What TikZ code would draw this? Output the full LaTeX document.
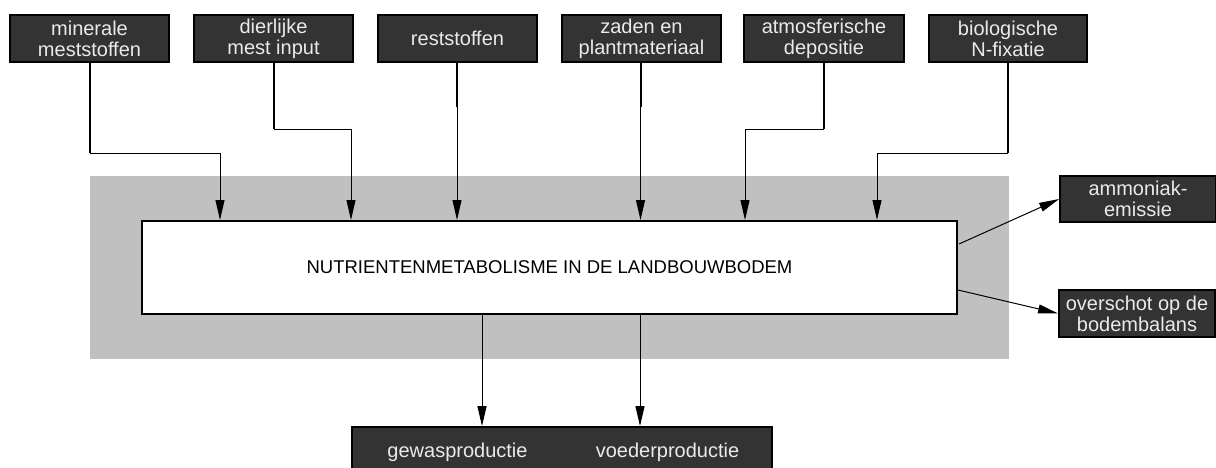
\documentclass[tikz,border=0pt]{standalone}
\usepackage{fontspec}
\setmainfont{Liberation Sans}
\usetikzlibrary{arrows.meta}
\definecolor{boxfill}{HTML}{333333}
\definecolor{boxtext}{HTML}{EAEAEA}
\definecolor{graybg}{HTML}{C0C0C0}
\begin{document}
\begin{tikzpicture}[x=1pt,y=-1pt,
  darkbox/.style={draw=black,line width=1.8pt,fill=boxfill,text=boxtext,
    minimum height=47pt,inner sep=0pt,align=center,
    font=\fontsize{20}{21}\selectfont},
  thickline/.style={line width=2pt},
  thinline/.style={line width=1pt},
  arr/.style={line width=1pt,-{Triangle[length=20pt,width=9pt]}}]
\useasboundingbox (0,0) rectangle (1216,467);
% grey background and main box
\fill[graybg] (90,176) rectangle (1009,359);
\node[draw=black,line width=2pt,fill=white,minimum width=815pt,minimum height=93pt,
  inner sep=0pt,font=\fontsize{18.5}{20}\selectfont] (main) at (549.5,267.5)
  {NUTRIENTENMETABOLISME IN DE LANDBOUWBODEM};
% top boxes
\node[darkbox,minimum width=159pt] (b1) at (89.5,38.5) {minerale\\meststoffen};
\node[darkbox,minimum width=159pt] (b2) at (273.5,38.5) {dierlijke\\mest input};
\node[darkbox,minimum width=159pt] (b3) at (457.5,38.5) {reststoffen};
\node[darkbox,minimum width=159pt] (b4) at (641.5,38.5) {zaden en\\plantmateriaal};
\node[darkbox,minimum width=160pt] (b5) at (824,38.5) {atmosferische\\depositie};
\node[darkbox,minimum width=158pt] (b6) at (1008,38.5) {biologische\\N-fixatie};
% right boxes
\node[darkbox,minimum width=156pt,minimum height=46pt] (amm) at (1138,199) {ammoniak-\\emissie};
\node[darkbox,minimum width=156pt] (ov) at (1137,313.5) {overschot op de\\bodembalans};
% bottom box
\node[darkbox,minimum width=420pt,minimum height=50pt] (prod) at (562,452) {};
\node[text=boxtext,font=\fontsize{20}{21}\selectfont,inner sep=0pt] (gw) at (457.5,452) {gewasproductie};
\node[text=boxtext,font=\fontsize{20}{21}\selectfont,inner sep=0pt] (vp) at (667.5,452) {voederproductie};
% connector bend points
\coordinate (c1a) at (89.5,153);  \coordinate (c1b) at (220,153);
\coordinate (c2a) at (273.5,129); \coordinate (c2b) at (351,129);
\coordinate (c3a) at (457,107);
\coordinate (c4a) at (640.5,107);
\coordinate (c5a) at (824,129);   \coordinate (c5b) at (745,129);
\coordinate (c6a) at (1008,153);  \coordinate (c6b) at (877,153);
% top connectors
\draw[thickline] (b1.south) -- (c1a);
\draw[arr] (c1a) -- (c1b) -- (c1b |- main.north);
\draw[thickline] (b2.south) -- (c2a);
\draw[arr] (c2a) -- (c2b) -- (c2b |- main.north);
\draw[thickline] (b3.south -| c3a) -- (c3a);
\draw[arr] (c3a) -- (c3a |- main.north);
\draw[thickline] (b4.south -| c4a) -- (c4a);
\draw[arr] (c4a) -- (c4a |- main.north);
\draw[thickline] (b5.south) -- (c5a);
\draw[arr] (c5a) -- (c5b) -- (c5b |- main.north);
\draw[thickline] (b6.south) -- (c6a);
\draw[arr] (c6a) -- (c6b) -- (c6b |- main.north);
% outputs right
\coordinate (o1) at (959,244);
\coordinate (o2) at (958,290);
\draw[arr] (o1) -- (amm.west);
\draw[arr] (o2) -- (ov.west);
% outputs bottom
\coordinate (g1) at (482,0);
\coordinate (g2) at (640,0);
\draw[arr] (main.south -| g1) -- (prod.north -| g1);
\draw[arr] (main.south -| g2) -- (prod.north -| g2);
\end{tikzpicture}
\end{document}
